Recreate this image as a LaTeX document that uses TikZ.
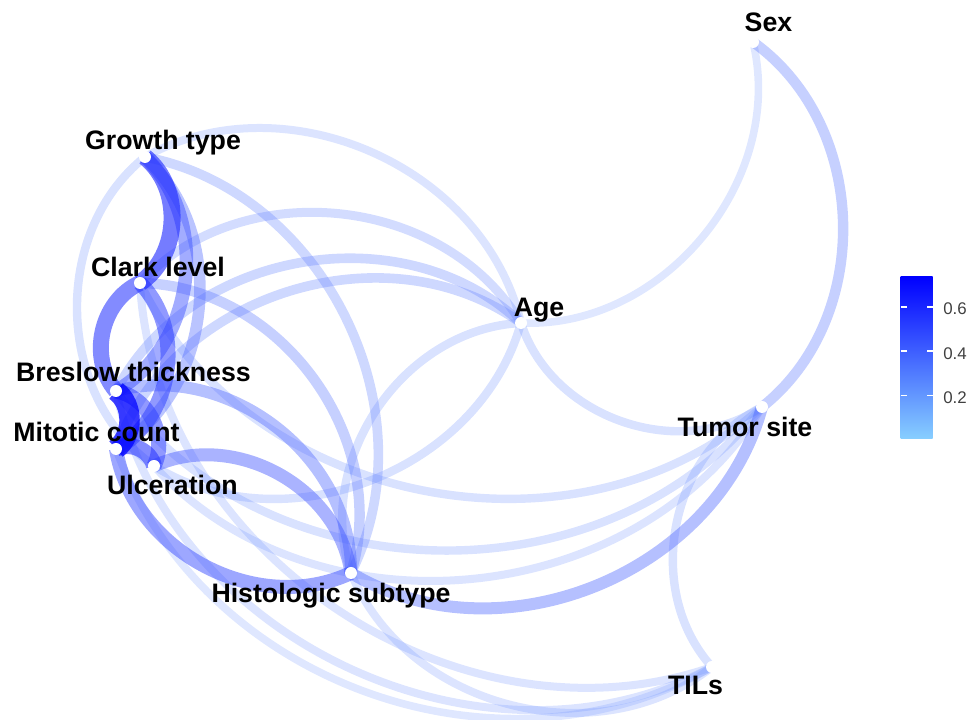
\documentclass[tikz,border=0pt]{standalone}
\usepackage{fontspec}
\setmainfont{Liberation Sans}
\definecolor{lowc}{RGB}{135,206,255}
\definecolor{highc}{RGB}{0,0,255}
\definecolor{lowe}{RGB}{120,160,255}
\newcommand\corredge[4]{%
  \pgfmathtruncatemacro\ef{max(0,min(100,(#3-0.02)/0.71*100))}%
  \pgfmathsetmacro\eo{min(1,0.15+0.85*#3)}%
  \pgfmathsetmacro\ew{(6+20*#3)*0.7113}%
  \draw[line width=\ew pt, draw opacity=\eo, draw=highc!\ef!lowe] (#1) to[bend left=#4] (#2);%
}
\tikzset{
  lbl/.style={anchor=base, inner sep=0pt, font=\fontsize{19}{22}\selectfont\bfseries},
  dot/.style={circle, fill=white, draw=none, inner sep=0pt, minimum size=0.3cm},
  tick/.style={white, line width=1pt},
  leglbl/.style={anchor=center, inner sep=0pt, text=black!75, font=\fontsize{12}{14}\selectfont}
}
\begin{document}
\begin{tikzpicture}[x=0.025cm, y=0.025cm]
\useasboundingbox (0,0) rectangle (968,720);
% variable positions
\coordinate (S) at (753,678);
\coordinate (G) at (145,563);
\coordinate (C) at (140,437);
\coordinate (A) at (521,397);
\coordinate (B) at (116,329);
\coordinate (M) at (116,271);
\coordinate (U) at (154,254);
\coordinate (T) at (762,313);
\coordinate (H) at (351,147);
\coordinate (L) at (712,53);
% weak edges
\corredge{A}{S}{0.08}{-53}
\corredge{A}{T}{0.12}{-53}
\corredge{G}{A}{0.10}{53}
\corredge{C}{A}{0.15}{53}
\corredge{B}{A}{0.18}{53}
\corredge{M}{A}{0.18}{53}
\corredge{U}{A}{0.12}{-53}
\corredge{A}{H}{0.12}{-53}
\corredge{T}{L}{0.12}{-53}
\corredge{H}{L}{0.10}{-53}
\corredge{C}{L}{0.10}{-53}
\corredge{B}{L}{0.10}{-53}
\corredge{M}{L}{0.08}{-50}
\corredge{C}{T}{0.12}{-53}
\corredge{B}{T}{0.12}{-53}
\corredge{U}{T}{0.10}{-53}
\corredge{G}{U}{0.12}{-53}
\corredge{S}{T}{0.22}{53}
\corredge{G}{H}{0.18}{53}
\corredge{C}{H}{0.22}{53}
\corredge{B}{H}{0.30}{53}
\corredge{H}{T}{0.30}{-53}
% strong edges
\corredge{U}{H}{0.35}{53}
\corredge{M}{H}{0.40}{-53}
\corredge{G}{M}{0.28}{53}
\corredge{G}{B}{0.38}{53}
\corredge{C}{M}{0.45}{53}
\corredge{B}{U}{0.45}{53}
\corredge{M}{U}{0.50}{53}
\corredge{C}{B}{0.50}{-53}
\corredge{G}{C}{0.55}{53}
\corredge{B}{M}{0.72}{53}
% points
\foreach \n in {S,G,C,A,B,M,U,T,H,L} \node[dot] (\n-dot) at (\n) {};
% labels
\node[lbl] (Slab) at (768.5,688.3) {Sex};
\node[lbl] (Glab) at (163,570) {Growth type};
\node[lbl] (Clab) at (158,443.3) {Clark level};
\node[lbl] (Alab) at (539,403.3) {Age};
\node[lbl] (Blab) at (133.5,338.3) {Breslow thickness};
\node[lbl] (Mlab) at (96.5,278.3) {Mitotic count};
\node[lbl] (Ulab) at (172.5,225) {Ulceration};
\node[lbl] (Tlab) at (745,283.3) {Tumor site};
\node[lbl] (Hlab) at (331,117) {Histologic subtype};
\node[lbl] (Llab) at (695.5,25) {TILs};
% legend
\shade[bottom color=lowc, top color=highc] (900.7,281.7) rectangle (932.7,443.3);
\foreach \yy in {413,369,324.3} {
  \draw[tick] (900.7,\yy) -- ++(6,0);
  \draw[tick] (932.7,\yy) -- ++(-6,0);
}
\node[leglbl] (l6) at (955,411) {0.6};
\node[leglbl] (l4) at (955,366) {0.4};
\node[leglbl] (l2) at (955,322.5) {0.2};
\end{tikzpicture}
\end{document}
